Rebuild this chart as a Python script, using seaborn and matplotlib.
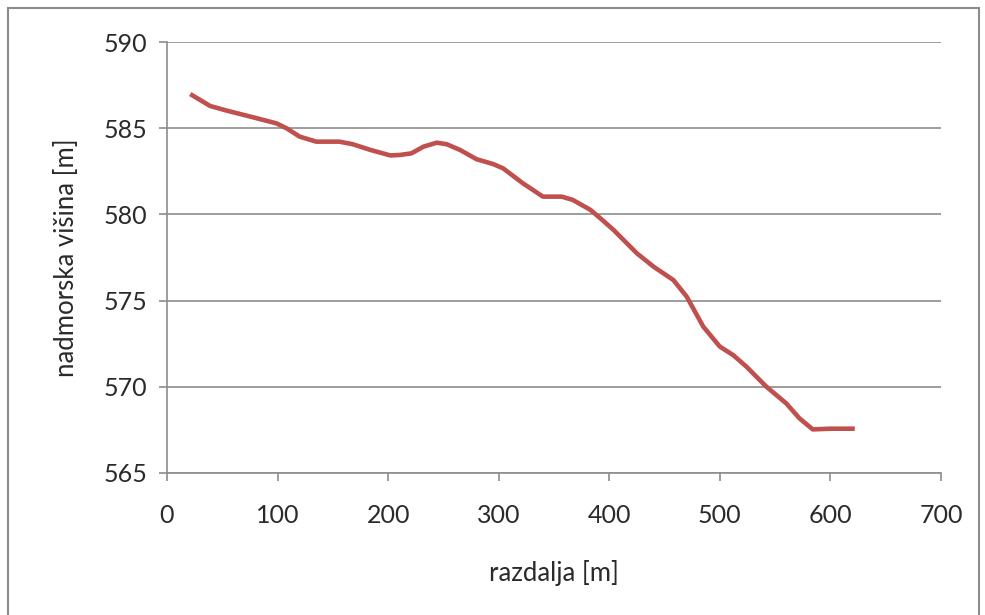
import matplotlib
matplotlib.use("Agg")
import matplotlib.pyplot as plt
from matplotlib.patches import Rectangle
import seaborn as sns
import pandas as pd

distance = [21, 39, 54, 78, 99, 108, 120, 135, 156, 168, 184, 202, 211, 221, 232,
            244, 253, 265, 280, 295, 304, 322, 340, 357, 367, 383, 392, 404, 425,
            440, 458, 470, 485, 500, 512, 524, 542, 560, 572, 584, 600, 622]
elevation = [586.98, 586.29, 586.02, 585.63, 585.28, 585.0, 584.51, 584.22, 584.22,
             584.07, 583.74, 583.42, 583.45, 583.54, 583.93, 584.16, 584.07, 583.74,
             583.2, 582.92, 582.67, 581.8, 581.03, 581.03, 580.84, 580.26, 579.77,
             579.09, 577.74, 576.97, 576.19, 575.23, 573.49, 572.33, 571.84, 571.17,
             570.01, 569.04, 568.17, 567.53, 567.57, 567.57]
x_ticks = [0, 100, 200, 300, 400, 500, 600, 700]
y_ticks = [565, 570, 575, 580, 585, 590]

sns.set_theme(style="white")
plt.rcParams["font.family"] = ["Lato", "DejaVu Sans"]

df = pd.DataFrame({"razdalja": distance, "visina": elevation})

fig = plt.figure(figsize=(9.85, 6.15), dpi=100)
ax = fig.add_axes([167/985, 1 - 473/615, (941-167)/985, (473-42)/615])
sns.lineplot(data=df, x="razdalja", y="visina", sort=False, ax=ax,
             color="#C0504D", linewidth=3.3, solid_capstyle="butt",
             solid_joinstyle="round")

ax.set_xlim(0, 700)
ax.set_ylim(565, 590)
ax.set_xticks(x_ticks)
ax.set_yticks(y_ticks)
ax.set_xticklabels([str(v) for v in x_ticks])
ax.set_yticklabels([str(v) for v in y_ticks])
ax.grid(axis="y", color="#8c8c8c", linewidth=1.2)
ax.grid(axis="x", visible=False)
for s in ["top", "right"]:
    ax.spines[s].set_visible(False)
for s in ["left", "bottom"]:
    ax.spines[s].set_color("#8c8c8c")
    ax.spines[s].set_linewidth(1.2)
ax.tick_params(axis="both", which="major", direction="out", length=6, width=1.2,
               color="#8c8c8c", labelsize=18, labelcolor="#2a2a2a",
               bottom=True, left=True)
ax.tick_params(axis="x", pad=16)
ax.tick_params(axis="y", pad=8)
ax.set_xlabel("razdalja [m]", fontsize=18.5, color="#2a2a2a", labelpad=24)
ax.set_ylabel("nadmorska višina [m]", fontsize=18.5, color="#2a2a2a", labelpad=18)

fig.patches.append(Rectangle((8/985, -0.05), (979-8)/985, 1.05 - 8/615,
                             transform=fig.transFigure, fill=False,
                             edgecolor="#8c8c8c", linewidth=1.5, zorder=0))

fig.savefig("out.png", dpi=100)
